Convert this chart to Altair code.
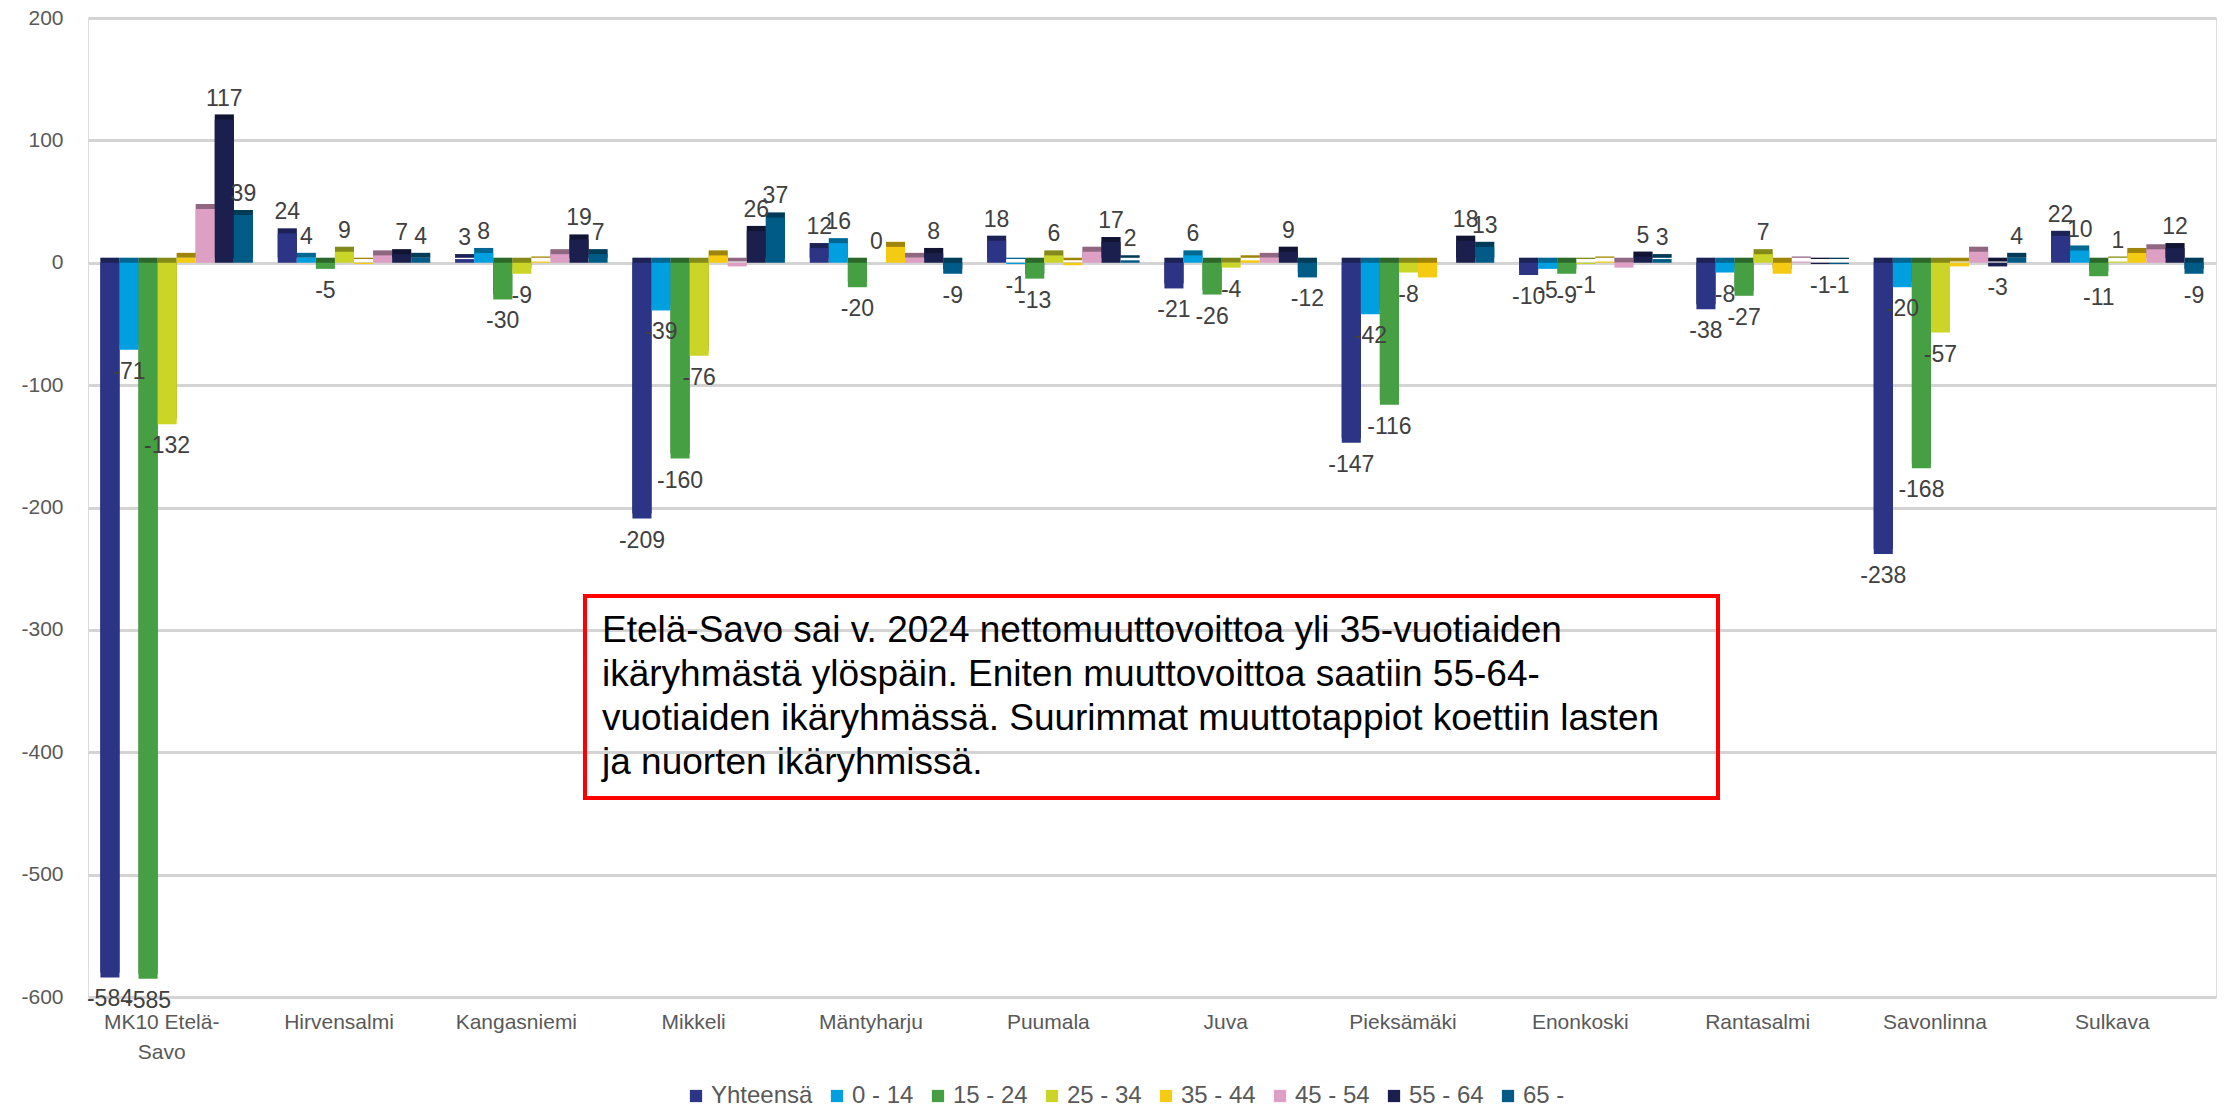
import altair as alt
import pandas as pd

municipalities = ["MK10 Etelä-Savo", "Hirvensalmi", "Kangasniemi", "Mikkeli", "Mäntyharju",
                  "Puumala", "Juva", "Pieksämäki", "Enonkoski", "Rantasalmi", "Savonlinna", "Sulkava"]
series_names = ["Yhteensä", "0 - 14", "15 - 24", "25 - 34", "35 - 44", "45 - 54", "55 - 64", "65 -"]

yhteensa = [-584, 24, 3, -209, 12, 18, -21, -147, -10, -38, -238, 22]
age_0_14 = [-71, 4, 8, -39, 16, -1, 6, -42, -5, -8, -20, 10]
age_15_24 = [-585, -5, -30, -160, -20, -13, -26, -116, -9, -27, -168, -11]
age_25_34 = [-132, 9, -9, -76, 0, 6, -4, -8, -1, 7, -57, 1]
age_35_44 = [4, -1, 1, 6, 13, -2, 2, -12, 1, -9, -3, 8]
age_45_54 = [44, 6, 7, -3, 4, 9, 4, 0, -4, 1, 9, 11]
age_55_64 = [117, 7, 19, 26, 8, 17, 9, 18, 5, -1, -3, 12]
age_65 = [39, 4, 7, 37, -9, 2, -12, 13, 3, -1, 4, -9]

series_values = [yhteensa, age_0_14, age_15_24, age_25_34, age_35_44, age_45_54, age_55_64, age_65]
series_labelled = [True, True, True, True, False, False, True, True]
colors = ["#2C3585", "#009FE0", "#46A043", "#CBD527", "#F4CB12", "#DE9FC5", "#1B1F4E", "#005C86"]

y_ticks = [-600, -500, -400, -300, -200, -100, 0, 100, 200]

note_lines = [
    "Etelä-Savo sai v. 2024 nettomuuttovoittoa yli 35-vuotiaiden",
    "ikäryhmästä ylöspäin. Eniten muuttovoittoa saatiin 55-64-",
    "vuotiaiden ikäryhmässä. Suurimmat muuttotappiot koettiin lasten",
    "ja nuorten ikäryhmissä.",
]

rows = []
for name, vals, show in zip(series_names, series_values, series_labelled):
    for m, v in zip(municipalities, vals):
        rows.append({"kunta": m, "ika": name, "arvo": v, "nayta": show})
df = pd.DataFrame(rows)

FONT = "Liberation Sans"

x_enc = alt.X(
    "kunta:N", sort=municipalities,
    scale=alt.Scale(paddingInner=0.14, paddingOuter=0.07),
    axis=alt.Axis(title=None, labelAngle=0, labelFont=FONT, labelFontSize=21,
                  labelColor="#595959", labelPadding=14, labelOffset=-15,
                  ticks=False, domain=False, grid=False, labelLineHeight=30,
                  labelExpr="datum.label == 'MK10 Etelä-Savo' ? ['MK10 Etelä-', 'Savo'] : datum.label"),
)
xo_enc = alt.XOffset("ika:N", sort=series_names, scale=alt.Scale(paddingInner=0, paddingOuter=0))
y_enc = alt.Y(
    "arvo:Q",
    scale=alt.Scale(domain=[-600, 200], nice=False, zero=True),
    axis=alt.Axis(title=None, values=y_ticks, labelExpr="toString(datum.value)",
                  labelFont=FONT, labelFontSize=21,
                  labelColor="#595959", labelPadding=25, ticks=False, domain=False,
                  grid=True, gridColor="#D4D4D4", gridWidth=3),
)
color_enc = alt.Color(
    "ika:N", sort=series_names,
    scale=alt.Scale(domain=series_names, range=colors),
    legend=alt.Legend(title=None, orient="none", legendX=596, legendY=1066, direction="horizontal",
                      symbolType="square", symbolSize=150, symbolStrokeWidth=0,
                      labelFont=FONT, labelFontSize=24, labelColor="#595959",
                      columnPadding=12, labelOffset=3),
)

base = alt.Chart(df)

side = base.mark_bar(xOffset=5, yOffset=-5).encode(
    x=x_enc, xOffset=xo_enc, y=y_enc, color=color_enc)
side_dark = base.mark_bar(xOffset=5, yOffset=-5, color="black", opacity=0.35).encode(
    x=x_enc, xOffset=xo_enc, y=y_enc)
front = base.mark_bar().encode(x=x_enc, xOffset=xo_enc, y=y_enc, color=color_enc)

lab_pos = base.transform_filter("datum.nayta && datum.arvo >= 0").transform_calculate(
    teksti="toString(datum.arvo)"
).mark_text(
    baseline="bottom", dy=-9, font=FONT, fontSize=23, color="#404040"
).encode(x=x_enc, xOffset=xo_enc, y=y_enc, text="teksti:N")
lab_neg = base.transform_filter("datum.nayta && datum.arvo < 0").transform_calculate(
    teksti="toString(datum.arvo)"
).mark_text(
    baseline="top", dy=11, font=FONT, fontSize=23, color="#404040"
).encode(x=x_enc, xOffset=xo_enc, y=y_enc, text="teksti:N")

note_df = pd.DataFrame({"n": [0]})
box = alt.Chart(note_df).mark_rect(filled=False, stroke="#FF0000", strokeWidth=4).encode(
    x=alt.value(497), x2=alt.value(1630), y=alt.value(578), y2=alt.value(780))
note = alt.Chart(note_df).mark_text(
    align="left", baseline="top", font=FONT, fontSize=37, lineHeight=44, color="#000000"
).encode(x=alt.value(514), y=alt.value(595), text=alt.value(note_lines))

chart = alt.layer(side, side_dark, front, lab_pos, lab_neg, box, note).properties(
    width=2128, height=979,
    autosize=alt.AutoSizeParams(type="none"),
    padding={"left": 80, "top": 10, "right": 2, "bottom": 113},
).configure_view(stroke=None).configure(background="white")

chart.save("out.html", embed_options={"renderer": "svg", "actions": False})
